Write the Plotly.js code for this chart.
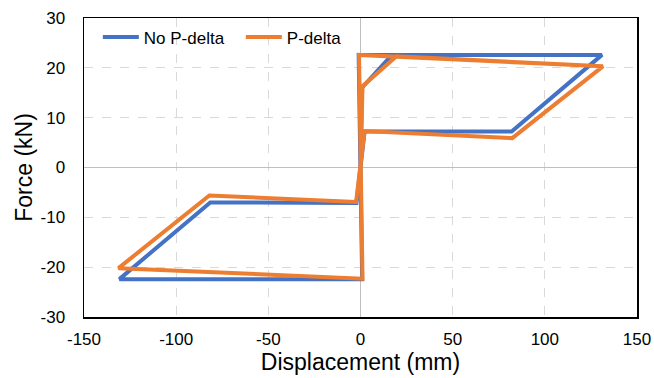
<!DOCTYPE html>
<html>
<head>
<meta charset="utf-8">
<script src="https://cdn.plot.ly/plotly-3.0.1.min.js"></script>
<style>html,body{margin:0;padding:0;background:#fff;}#chart{width:654px;height:378px;}</style>
</head>
<body>
<div id="chart"></div>
<script>
// No P-delta (blue)
const noPdeltaDisp  = [0, 0.8, 17, 131, 82, 2.2, -2.2, -81.5, -130.8, 0.9, -1, 131];
const noPdeltaForce = [0, 16, 22.6, 22.6, 7.2, 7.2, -7.1, -7.0, -22.4, -22.4, 22.6, 22.6];
// P-delta (orange)
const pdeltaDisp  = [0, 1.1, 19.5, 131.5, 82.3, 2.2, -2.4, -82, -131.3, 1.1, -0.8, 131.5];
const pdeltaForce = [0, 16.3, 22.3, 20.3, 5.9, 7.3, -6.9, -5.6, -20.2, -22.3, 22.6, 20.3];
const seriesNames = ["No P-delta", "P-delta"];
const xTicks = [-150, -100, -50, 0, 50, 100, 150];
const yTicks = [-30, -20, -10, 0, 10, 20, 30];

const font = "Liberation Sans, Arial, sans-serif";
const traces = [
  {x: noPdeltaDisp, y: noPdeltaForce, name: seriesNames[0], mode: "lines",
   line: {color: "#4472C4", width: 4}},
  {x: pdeltaDisp, y: pdeltaForce, name: seriesNames[1], mode: "lines",
   line: {color: "#ED7D31", width: 4}}
];
const layout = {
  width: 654, height: 378,
  margin: {l: 84, r: 17, t: 18, b: 61},
  paper_bgcolor: "#fff", plot_bgcolor: "#fff",
  font: {family: font, size: 17, color: "#000"},
  showlegend: true,
  legend: {orientation: "h", x: 0.025, y: 0.995, xanchor: "left", yanchor: "top",
           bgcolor: "rgba(255,255,255,0)", font: {family: font, size: 17},
           itemwidth: 36, tracegroupgap: 0, entrywidth: 92, entrywidthmode: "pixels"},
  xaxis: {range: [-150, 150], tickvals: xTicks, ticktext: xTicks.map(String),
          showgrid: true, gridcolor: "#D9D9D9", griddash: "dash", gridwidth: 1.3,
          zeroline: true, zerolinecolor: "#BFBFBF", zerolinewidth: 1.5,
          showline: true, linecolor: "#000", linewidth: 1.5, mirror: true,
          ticks: "", ticklabelstandoff: 6, tickfont: {size: 17},
          title: {text: "Displacement (mm)", font: {size: 23}, standoff: 2},
          automargin: false, fixedrange: true},
  yaxis: {range: [-30, 30], tickvals: yTicks, ticktext: yTicks.map(String),
          showgrid: true, gridcolor: "#D9D9D9", griddash: "dash", gridwidth: 1.3,
          zeroline: true, zerolinecolor: "#BFBFBF", zerolinewidth: 1.5,
          showline: true, linecolor: "#000", linewidth: 1.5, mirror: true,
          ticks: "", ticklabelstandoff: 14, tickfont: {size: 17},
          title: {text: "Force (kN)", font: {size: 23}, standoff: 1},
          automargin: false, fixedrange: true}
};
Plotly.newPlot("chart", traces, layout, {displayModeBar: false, staticPlot: true});
</script>
</body>
</html>
